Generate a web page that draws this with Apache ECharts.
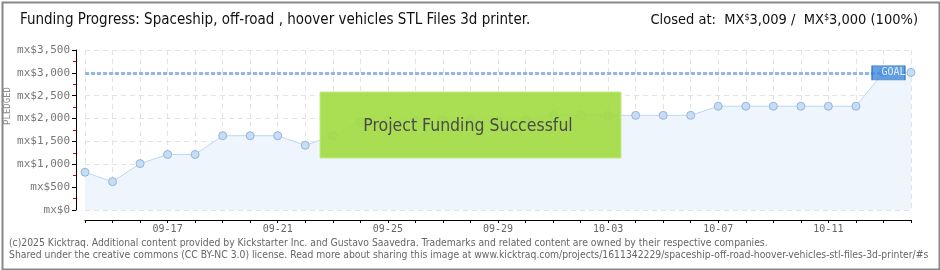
<!DOCTYPE html>
<html><head><meta charset="utf-8">
<script src="https://cdn.jsdelivr.net/npm/echarts@6/dist/echarts.min.js"></script>
<style>html,body{margin:0;padding:0;background:#fff}#c{width:940px;height:270px}</style>
</head><body><div id="c"></div>
<script>
const dates = ['09-14','09-15','09-16','09-17','09-18','09-19','09-20','09-21','09-22','09-23','09-24','09-25','09-26','09-27','09-28','09-29','09-30','10-01','10-02','10-03','10-04','10-05','10-06','10-07','10-08','10-09','10-10','10-11','10-12','10-13','10-14'];
const pledged = [825,620,1015,1215,1215,1625,1625,1625,1415,1625,1930,1960,1960,1960,1960,1960,1960,2070,2070,2070,2070,2070,2070,2270,2270,2270,2270,2270,2270,3009,3009];
const goal = 3000;
const yTicks = [0,500,1000,1500,2000,2500,3000,3500];
const titleText = 'Funding Progress: Spaceship, off-road , hoover vehicles STL Files 3d printer.';
const footer1 = '(c)2025 Kicktraq. Additional content provided by Kickstarter Inc. and Gustavo Saavedra. Trademarks and related content are owned by their respective companies.';
const footer2 = 'Shared under the creative commons (CC BY-NC 3.0) license. Read more about sharing this image at www.kicktraq.com/projects/1611342229/spaceship-off-road-hoover-vehicles-stl-files-3d-printer/#s';

const chart = echarts.init(document.getElementById('c'), null, {renderer:'canvas'});
const fmt = v => 'mx$' + v.toLocaleString('en-US');
chart.setOption({
  animation:false,
  grid:{left:85,right:29,top:50,bottom:60,containLabel:false},
  xAxis:{type:'category',data:dates,boundaryGap:false,offset:10,
    axisLine:{show:true,onZero:false,lineStyle:{color:'#000',width:1}},
    axisTick:{show:true,interval:0,length:3,lineStyle:{color:'#000'}},
    axisLabel:{interval:(i)=>(i-3)%4===0 && i>=3,color:'#666',fontFamily:'DejaVu Sans Mono',fontSize:10,margin:4},
    splitLine:{show:true,interval:0,lineStyle:{color:'#e3e3e3',type:[5,4]}}},
  yAxis:{type:'value',min:yTicks[0],max:yTicks[yTicks.length-1],interval:500,offset:9,
    axisLine:{show:true,onZero:false,lineStyle:{color:'#000',width:1}},
    axisTick:{show:true,length:4,lineStyle:{color:'#000'}},
    minorTick:{show:true,splitNumber:2,length:3,lineStyle:{color:'#e00000'}},
    axisLabel:{formatter:fmt,color:'#777',fontFamily:'DejaVu Sans Mono',fontSize:11,margin:6},
    splitLine:{show:true,lineStyle:{color:'#e3e3e3',type:[5,4]}}},
  series:[{type:'line',data:pledged,symbol:'circle',symbolSize:8,
    lineStyle:{color:'#bcd8f4',width:1},
    itemStyle:{color:'#c5ddf7',borderColor:'#97b4d6',borderWidth:1},
    areaStyle:{color:'#eef5fd',opacity:1},
    markLine:{silent:true,symbol:'none',label:{show:false},
      lineStyle:{color:'#94b8e2',width:3,type:[4,2],opacity:1},
      data:[[{coord:[dates[0],goal]},{coord:[dates[29],goal]}]]},
    z:2},
   {type:'scatter',data:[[dates[29],goal]],symbol:'rect',symbolSize:[33,14],symbolOffset:[5,0],
    itemStyle:{color:'#3f88d8',borderColor:'#2f74c4',borderWidth:1},
    label:{show:true,formatter:'GOAL',color:'#fff',fontFamily:'DejaVu Sans Mono',fontSize:10,offset:[5,0],position:'inside'},z:5,silent:true}
  ],
  graphic:[
    {type:'rect',left:0,top:0,shape:{x:1,y:1,width:937,height:267},style:{fill:'none',stroke:'#888',lineWidth:2},z:100},
    {type:'text',left:20,top:13,style:{text:titleText,font:'15px "DejaVu Sans Condensed", "Liberation Sans Narrow", sans-serif',fill:'#111'}},
    {type:'text',right:22,top:13,style:{rich:{n:{font:'14.5px "DejaVu Sans Condensed", sans-serif',fill:'#111'},s:{font:'9px "DejaVu Sans Condensed", sans-serif',fill:'#111',verticalAlign:'top',padding:[0,0,6,0]}},text:'{n|Closed at:  MX}{s|$}{n|3,009 /  MX}{s|$}{n|3,000 (100%)}'}},
    {type:'text',left:3,top:87,rotation:Math.PI/2,style:{text:'PLEDGED',font:'9px "DejaVu Sans Mono"',fill:'#888'}},
    {type:'text',left:9,top:238,style:{text:footer1,font:'10.3px "DejaVu Sans Condensed", sans-serif',fill:'#666'}},
    {type:'text',left:9,top:250,style:{text:footer2,font:'10.3px "DejaVu Sans Condensed", sans-serif',fill:'#666'}},
    {type:'text',left:835,top:130,style:{text:'K',font:'italic 80px "DejaVu Serif"',fill:'rgba(0,0,0,0.025)'}},
    {type:'rect',shape:{x:320,y:92,width:301,height:66},style:{fill:'rgba(164,220,70,0.93)',stroke:'#c4ea8a',lineWidth:1},z:50},
    {type:'text',x:468,y:126,style:{text:'Project Funding Successful',font:'17.5px "DejaVu Sans Condensed", sans-serif',fill:'#4a4a4a',align:'center',verticalAlign:'middle',textShadowColor:'#fff',textShadowOffsetX:1,textShadowOffsetY:1,textShadowBlur:0},z:51}
  ]
});
</script></body></html>
